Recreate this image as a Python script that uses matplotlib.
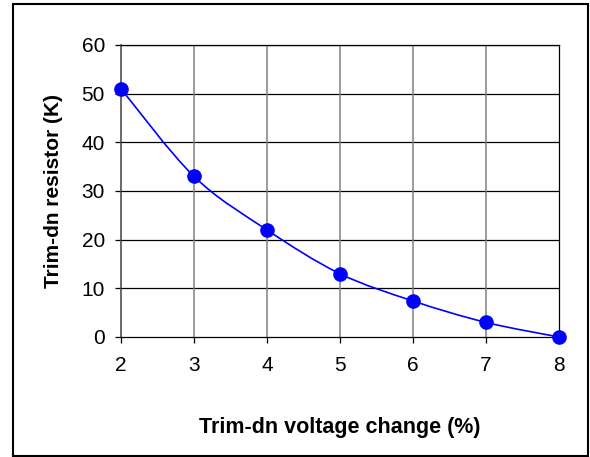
import matplotlib
matplotlib.use('Agg')
import matplotlib.pyplot as plt
import numpy as np
from matplotlib.path import Path
from matplotlib.patches import PathPatch, Rectangle

voltage_change = [2, 3, 4, 5, 6, 7, 8]
trim_dn_res = [51, 33, 22, 13, 7.4, 3, 0]
x_ticks = [2, 3, 4, 5, 6, 7, 8]
y_ticks = [0, 10, 20, 30, 40, 50, 60]

plt.rcParams['font.family'] = ['Liberation Sans', 'DejaVu Sans']


def smooth_path(xs, ys):
    # excel-style smoothed line: catmull-rom segments as cubic beziers
    pts = np.column_stack([xs, ys]).astype(float)
    n = len(pts)
    verts = [pts[0]]
    codes = [Path.MOVETO]
    for i in range(n - 1):
        p0 = pts[i - 1] if i > 0 else pts[i]
        p1 = pts[i]
        p2 = pts[i + 1]
        p3 = pts[i + 2] if i + 2 < n else pts[i + 1]
        c1 = p1 + (p2 - p0) / 6
        c2 = p2 - (p3 - p1) / 6
        verts += [c1, c2, p2]
        codes += [Path.CURVE4] * 3
    return Path(verts, codes)


fig = plt.figure(figsize=(5.9, 4.57), dpi=100)
ax = fig.add_axes([121 / 590, 1 - 337 / 457, 438 / 590, 292 / 457])

ax.set_xlim(2, 8)
ax.set_ylim(0, 60)
ax.set_xticks(x_ticks)
ax.set_yticks(y_ticks)

# grid: horizontal black, vertical gray
for y in y_ticks[1:]:
    ax.axhline(y, color='black', lw=0.9, zorder=1)
for x in x_ticks[1:-1]:
    ax.axvline(x, color='#808080', lw=1.1, zorder=1)

ax.spines['left'].set_color('#404040')
ax.spines['left'].set_linewidth(1.1)
for s in ['top', 'right', 'bottom']:
    ax.spines[s].set_color('black')
    ax.spines[s].set_linewidth(0.9)

ax.tick_params(axis='both', direction='out', length=4.5, width=0.9,
               labelsize=15, colors='black')
ax.tick_params(axis='y', pad=7)
ax.tick_params(axis='x', pad=9)

ax.add_patch(PathPatch(smooth_path(voltage_change, trim_dn_res),
                       facecolor='none', edgecolor='#0000ff', lw=1.2,
                       zorder=3, clip_on=False))
ax.plot(voltage_change, trim_dn_res, ls='none', marker='o', ms=9.5,
        color='#0000ff', zorder=4, clip_on=False)

fig.text(54 / 590, 1 - 191 / 457, 'Trim-dn resistor (K)', rotation=90,
         fontsize=15, fontweight='bold', ha='center', va='center')
fig.text(340 / 590, 1 - 427 / 457, 'Trim-dn voltage change (%)',
         fontsize=15.5, fontweight='bold', ha='center', va='center')

# outer chart border
fig.patches.append(Rectangle((13 / 590, 1 / 457), 575 / 590, 452 / 457,
                             transform=fig.transFigure, fill=False,
                             edgecolor='black', lw=1.5))

fig.savefig('out.png', dpi=100)
